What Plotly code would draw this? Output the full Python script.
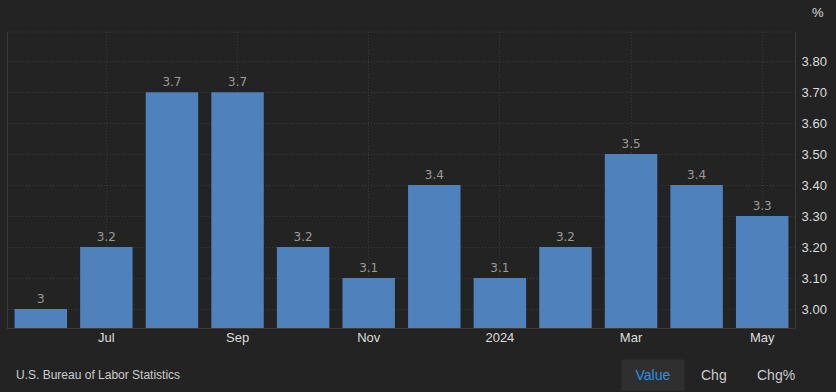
import plotly.graph_objects as go

months = ["2023-06", "2023-07", "2023-08", "2023-09", "2023-10", "2023-11",
          "2023-12", "2024-01", "2024-02", "2024-03", "2024-04", "2024-05"]
values = [3.0, 3.2, 3.7, 3.7, 3.2, 3.1, 3.4, 3.1, 3.2, 3.5, 3.4, 3.3]
tick_months = ["2023-07", "2023-09", "2023-11", "2024-01", "2024-03", "2024-05"]
tick_labels = ["Jul", "Sep", "Nov", "2024", "Mar", "May"]
y_ticks = [3.0, 3.1, 3.2, 3.3, 3.4, 3.5, 3.6, 3.7, 3.8]

W, H = 836, 392
L, R, T, B = 8, 795, 32, 328

def px(x):
    return (x - L) / (R - L)

def py(y):
    return (B - y) / (B - T)

BG = "#232323"
FONT = "Arial, Liberation Sans, Helvetica, sans-serif"

fig = go.Figure()
fig.add_trace(go.Bar(
    x=months, y=values,
    marker=dict(color="#4f81bd", line=dict(width=0)),
    text=[f"{v:g}" for v in values],
    textposition="outside",
    textfont=dict(color="#9a9a9a", size=12, family="DejaVu Sans, sans-serif"),
    cliponaxis=False,
    hoverinfo="skip",
))

fig.update_layout(
    width=W, height=H,
    margin=dict(l=L, r=W - R, t=T, b=H - B, autoexpand=False),
    paper_bgcolor=BG, plot_bgcolor=BG,
    bargap=0.2,
    showlegend=False,
    hovermode=False,
    font=dict(family=FONT, color="#dddddd", size=13),
    xaxis=dict(
        type="category", automargin=False,
        tickmode="array", tickvals=tick_months, ticktext=tick_labels,
        showgrid=True, gridcolor="#3a3a3a", griddash="1px,2px", gridwidth=1,
        showline=True, linecolor="#3a3a3a", linewidth=1,
        ticks="", ticklabelstandoff=-3,
        tickfont=dict(size=13, color="#dddddd", family=FONT),
        zeroline=False,
    ),
    yaxis=dict(
        side="right", automargin=False,
        range=[2.939, 3.894],
        tickmode="array", tickvals=y_ticks, tickformat=".2f",
        showgrid=True, gridcolor="#3a3a3a", griddash="1px,2px", gridwidth=1,
        showline=True, mirror=True, linecolor="#3a3a3a", linewidth=1,
        ticks="", ticklabelstandoff=3,
        tickfont=dict(size=13, color="#dddddd", family=FONT),
        zeroline=False,
    ),
)

# dotted top border
fig.add_shape(type="line", xref="paper", yref="paper", x0=0, x1=1, y0=1, y1=1,
              line=dict(color="#3a3a3a", width=1, dash="1px,2px"))

def note(text, x, y, size, color, xanchor="center", **kw):
    fig.add_annotation(text=text, xref="paper", yref="paper", x=px(x), y=py(y),
                       xanchor=xanchor, yanchor="middle", showarrow=False,
                       font=dict(size=size, color=color, family=FONT), **kw)

note("%", 818, 13, 13, "#dddddd")
note("U.S. Bureau of Labor Statistics", 14, 375, 12, "#cccccc", xanchor="left")
note("Value", 653, 375, 14, "#2b8fe6", bgcolor="#2f2f2f", width=60, height=28)
note("Chg", 714, 375, 14, "#cccccc")
note("Chg%", 776, 375, 14, "#cccccc")

fig.write_html(
    "out.html",
    config={"displayModeBar": False, "staticPlot": True},
    post_script="document.body.style.margin='0';document.body.style.background='%s';" % BG,
)
